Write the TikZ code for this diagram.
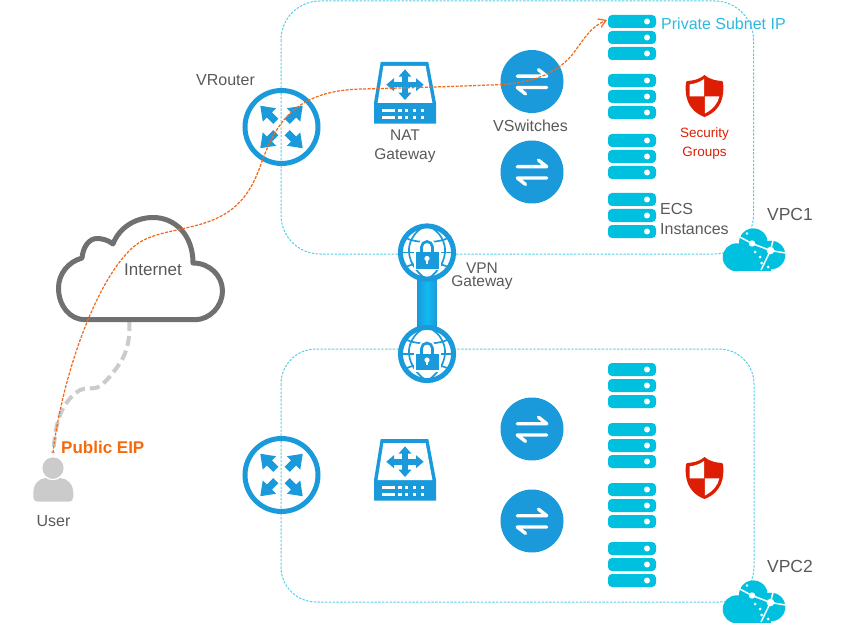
\documentclass[tikz,border=0pt]{standalone}
\usepackage{fontspec}
\setmainfont{Liberation Sans}
\usetikzlibrary{arrows.meta}
\definecolor{netblue}{HTML}{1A9ADB}
\definecolor{tunnelmid}{HTML}{12BAF0}
\definecolor{srvcyan}{HTML}{00C0E0}
\definecolor{edgecyan}{HTML}{55CFE8}
\definecolor{labelgray}{HTML}{595959}
\definecolor{subnetblue}{HTML}{2DB8DE}
\definecolor{shieldred}{HTML}{DD1E05}
\definecolor{routeorange}{HTML}{F26A1B}
\definecolor{eiporange}{HTML}{F76A0C}
\definecolor{usergray}{HTML}{CBCBCB}
\definecolor{cloudgray}{HTML}{707070}
\tikzset{
  x=1pt,y=-1pt,
  lbl/.style={inner sep=0pt,text=labelgray,font=\fontsize{16}{19}\selectfont,anchor=center},
  vpcedge/.style={draw=edgecyan,line width=1pt,dash pattern=on 2.4pt off 1.4pt},
  pics/router/.style={code={
    \draw[netblue,line width=5pt] (0,0) circle[radius=36.5pt];
    \foreach \a in {45,135,225,315}{
      \fill[netblue,rotate=\a] (8,-3.6) -- (17,-3.6) -- (17,-9.5) -- (30,0) -- (17,9.5) -- (17,3.6) -- (8,3.6) -- cycle;
    }
  }},
  pics/natgw/.style={code={
    \fill[netblue] (-24.3,-31) -- (23.3,-31) -- (31,10) -- (31,30.7) -- (-31,30.7) -- (-31,10) -- cycle;
    \fill[white] (-21.6,-27) -- (20.6,-27) -- (27.4,10) -- (-27.4,10) -- cycle;
    \begin{scope}[shift={(0,-8.3)}]
      \fill[netblue] (-12,-2.8) rectangle (12,2.8);
      \fill[netblue] (-2.8,-9) rectangle (2.8,9);
      \fill[netblue] (-18.7,0) -- (-11,-6.5) -- (-11,6.5) -- cycle;
      \fill[netblue] (18.7,0) -- (11,-6.5) -- (11,6.5) -- cycle;
      \fill[netblue] (0,-15.3) -- (-6.5,-8) -- (6.5,-8) -- cycle;
      \fill[netblue] (0,15.3) -- (-6.5,8) -- (6.5,8) -- cycle;
    \end{scope}
    \foreach \r in {16,22.7}{
      \fill[white] (-23.3,\r) rectangle (-10,\r+3.4);
      \foreach \c in {-6.7,0,7.7,15.5}{\fill[white] (\c,\r) rectangle (\c+3.4,\r+3.4);}
    }
  }},
  pics/vswitch/.style={code={
    \fill[netblue] (0,0) circle[radius=31.5pt];
    \draw[white,line width=3.4pt,line cap=round,line join=round] (-14.7,-5.3) -- (14.7,-5.3) -- (6.5,-11.8);
    \draw[white,line width=3.4pt,line cap=round,line join=round] (14.7,6) -- (-14.7,6) -- (-6.5,12.4);
  }},
  pics/vpngw/.style={code={
    \fill[white] (0,0) circle[radius=27pt];
    \begin{scope}[netblue,line width=1.7pt]
      \draw (0,-27) .. controls (-14,-22) and (-19,-8) .. (-18,0) .. controls (-17,12) and (-8,22) .. (0,27);
      \draw (0,-27) .. controls (14,-22) and (19,-8) .. (18,0) .. controls (17,12) and (8,22) .. (0,27);
      \draw (-22,-15) .. controls (-12,-9) and (12,-9) .. (22,-15);
      \draw (-22,15) .. controls (-12,9) and (12,9) .. (22,15);
      \draw (-27,0) -- (27,0);
    \end{scope}
    \fill[white] (-13.5,-2) rectangle (13.5,17.5);
    \draw[white,line width=6pt] (-6,1) -- (-6,-5) arc[start angle=180,end angle=0,radius=6pt] -- (6,1);
    \draw[netblue,line width=2.7pt] (-5.5,1) -- (-5.5,-5.5) arc[start angle=180,end angle=0,radius=5.5pt] -- (5.5,1);
    \fill[netblue] (-11.5,-0.5) rectangle (11.5,16);
    \fill[white] (0,6) circle[radius=2.6pt];
    \fill[white] (-1,6) rectangle (1,11);
    \draw[netblue,line width=5pt] (0,0) circle[radius=26.6pt];
  }},
  pics/srvstack/.style={code={
    \foreach \t in {0,16,32}{
      \fill[srvcyan,rounded corners=4pt] (0,\t) rectangle (48,\t+13);
      \fill[white] (39,\t+6.5) circle[radius=3pt];
    }
  }},
  pics/guard/.style={code={
    \fill[shieldred] (0,-21) .. controls (-6,-16) and (-12,-15.5) .. (-17,-15) .. controls (-18.5,-15) and (-18.7,-13.5) .. (-18.7,-12)
      .. controls (-19.5,-1) and (-18,14) .. (0,21)
      .. controls (18,14) and (19.5,-1) .. (18.7,-12) .. controls (18.7,-13.5) and (18.5,-15) .. (17,-15)
      .. controls (12,-15.5) and (6,-16) .. (0,-21) -- cycle;
    \fill[white] (-0.4,-17) .. controls (-5,-13.5) and (-10,-12.3) .. (-14.8,-11.6) -- (-14.8,0.4) -- (-0.4,0.4) -- cycle;
    \fill[white] (0.4,0.4) -- (14.8,0.4) .. controls (13.5,7) and (9,13) .. (0.4,17.5) -- cycle;
  }},
  pics/vpccloud/.style={code={
    \fill[srvcyan] (36.7,57.3) circle[radius=14pt] (53.3,42.7) circle[radius=14.3pt] (71,55) circle[radius=14.3pt];
    \fill[srvcyan] (36.7,55) rectangle (71,70.5);
    \begin{scope}[white,line width=1.5pt]
      \draw (38,36) -- (52,43.5) -- (70.5,50.5) -- (73,40.5);
      \draw (70.5,50.5) -- (85.5,53);
      \draw (70.5,50.5) -- (61,70);
      \fill (52,43.5) circle[radius=3.2pt] (70.5,50.5) circle[radius=3.8pt];
      \fill (47,33.5) circle[radius=1.3pt] (55,52) circle[radius=1.5pt] (60,57) circle[radius=1.5pt]
            (61.5,63) circle[radius=1.5pt] (68,67) circle[radius=1.5pt];
    \end{scope}
  }}
}
\begin{document}
\begin{tikzpicture}
\useasboundingbox (0,0) rectangle (844,623);
\clip (0,0) rectangle (844,623);

% VPC outlines
\draw[vpcedge,rounded corners=39pt] (281,1) rectangle (753.5,254);
\draw[vpcedge,rounded corners=35pt] (281,349) rectangle (754,602);

% anchors used by connectors
\coordinate (vpnA) at (427,252.5);
\coordinate (vpnB) at (427,354);
\coordinate (userTop) at (53,453);
\coordinate (cloudFoot) at (129.5,321);
\coordinate (srvEntry) at (607,20);

% VPN tunnel
\shade[left color=netblue,right color=netblue,middle color=tunnelmid]
  ([xshift=-9.7pt]vpnA) rectangle ([xshift=9.7pt]vpnB);

% Internet link to the user
\draw[usergray,line width=4pt,dash pattern=on 10pt off 5pt]
  plot[smooth,tension=0.6] coordinates {(cloudFoot) (128,343) (120,363) (100,386) (80,390) (65,405) (57,425) (userTop)};

% Internet cloud
\draw[cloudgray,line width=5pt,line join=round]
  (85,319.7) -- (195,319.7) .. controls (210,319.7) and (222.5,306) .. (222.5,291)
  .. controls (222.5,276) and (210,263) .. (193,263)
  .. controls (193,236) and (176,217.5) .. (153,217.5)
  .. controls (135,217.5) and (119,228) .. (113,244)
  .. controls (108,240) and (102,238.5) .. (97,238.5)
  .. controls (89,238.5) and (83,247) .. (82,258)
  .. controls (68,262) and (58.5,274) .. (58.5,288)
  .. controls (58.5,306) and (70,319.7) .. (85,319.7) -- cycle;
\node[lbl,font=\fontsize{17}{19}\selectfont] (internet) at (153,270) {Internet};

% User
\fill[usergray] (33.3,493) .. controls (33.3,484) and (39,478) .. (46,478) -- (60,478)
  .. controls (67,478) and (73.3,484) .. (73.3,493) -- (73.3,497) .. controls (73.3,500) and (71.5,501.7) .. (69,501.7)
  -- (38,501.7) .. controls (35,501.7) and (33.3,500) .. (33.3,497) -- cycle;
\fill[usergray] (53,468) circle[radius=10.7pt];
\draw[white,line width=1.2pt] (53,468) circle[radius=11.6pt];
\node[lbl] (user) at (53.5,521) {User};
\node[inner sep=0pt,anchor=west,text=eiporange,font=\fontsize{17}{19}\selectfont\bfseries] (eip) at (61,447) {Public EIP};

% VPC1 devices
\pic (rt1) at (281.5,127) {router};
\pic (nat1) at (405,93) {natgw};
\pic (sw1a) at (532,81.5) {vswitch};
\pic (sw1b) at (532,172) {vswitch};
\pic (gw1) at (vpnA) {vpngw};
\foreach \y/\n in {15/a,74/b,134/c,193/d}{\pic (s1\n) at (608,\y) {srvstack};}
\pic (sh1) at (704.5,96) {guard};
\pic (cl1) at (700,200) {vpccloud};

% VPC2 devices
\pic (rt2) at (281.5,475) {router};
\pic (nat2) at (405,470) {natgw};
\pic (sw2a) at (532,429) {vswitch};
\pic (sw2b) at (532,521) {vswitch};
\pic (gw2) at (vpnB) {vpngw};
\foreach \y/\n in {363/a,423/b,483/c,542/d}{\pic (s2\n) at (608,\y) {srvstack};}
\pic (sh2) at (704.5,478) {guard};
\pic (cl2) at (700,552) {vpccloud};

% Labels
\node[lbl] (vr) at (225.5,80) {VRouter};
\node[lbl,align=center,font=\fontsize{15.5}{19}\selectfont] (natlbl) at (405,146.5) {NAT\\Gateway};
\node[lbl] (vsw) at (530.5,126) {VSwitches};
\node[lbl,align=center,font=\fontsize{15.5}{13}\selectfont] (vpnlbl) at (482,276.5) {VPN\\Gateway};
\node[lbl,align=left,anchor=west,font=\fontsize{16}{20}\selectfont] (ecs) at (660,219) {ECS\\Instances};
\node[lbl,font=\fontsize{17.5}{19}\selectfont] (vpc1) at (790,214) {VPC1};
\node[lbl,font=\fontsize{17.5}{19}\selectfont] (vpc2) at (790,566) {VPC2};
\node[inner sep=0pt,anchor=west,text=subnetblue,font=\fontsize{16}{19}\selectfont] (subnet) at (661,24) {Private Subnet IP};
\node[inner sep=0pt,align=center,text=shieldred,font=\fontsize{13.5}{19}\selectfont] (sg) at (704.5,144) {Security\\Groups};

% Traffic route from the public address to the private subnet
\draw[routeorange,line width=1.25pt,dash pattern=on 3pt off 1.4pt,-{Straight Barb[length=7pt,width=9pt]}]
  (userTop) .. controls (60,390) and (90,290) .. (130,250)
  .. controls (145,235) and (165,233) .. (190,227)
  .. controls (225,219) and (245,205) .. (258,172)
  .. controls (272,135) and (285,90) .. (363,89)
  .. controls (400,88) and (440,87) .. (490,85)
  .. controls (530,84) and (555,75) .. (572,55)
  .. controls (582,42) and (590,27) .. (srvEntry);
\end{tikzpicture}
\end{document}
